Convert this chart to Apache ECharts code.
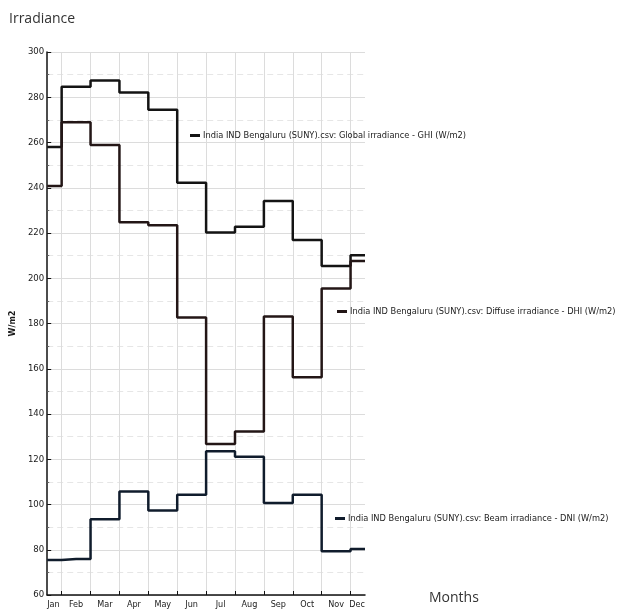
<!DOCTYPE html>
<html>
<head>
<meta charset="utf-8">
<script src="https://cdn.jsdelivr.net/npm/echarts@6/dist/echarts.min.js"></script>
<style>html,body{margin:0;padding:0;background:#fff;}#c{width:618px;height:613px;}</style>
</head>
<body>
<div id="c"></div>
<script>
const months = ['Jan','Feb','Mar','Apr','May','Jun','Jul','Aug','Sep','Oct','Nov','Dec'];
const ghiName = 'India IND Bengaluru (SUNY).csv: Global irradiance - GHI (W/m2)';
const dhiName = 'India IND Bengaluru (SUNY).csv: Diffuse irradiance - DHI (W/m2)';
const dniName = 'India IND Bengaluru (SUNY).csv: Beam irradiance - DNI (W/m2)';
const ghi = [258, 284.6, 287.4, 282.1, 274.5, 242.2, 220.2, 222.8, 234.1, 216.9, 205.4, 210.2];
const dhi = [240.8, 268.9, 258.9, 224.7, 223.4, 182.6, 126.7, 132.3, 183.1, 156.2, 195.5, 207.6];
const dni = [75.5, 75.9, 93.5, 105.7, 97.3, 104.3, 123.5, 121.1, 100.7, 104.3, 79.3, 80.3];
const yTicks = [60, 80, 100, 120, 140, 160, 180, 200, 220, 240, 260, 280, 300];

const labelFont = 'Liberation Sans Narrow, DejaVu Sans Condensed, Liberation Sans, sans-serif';
const chart = echarts.init(document.getElementById('c'), null, {renderer: 'canvas'});
const toXY = arr => arr.map((v, i) => [i, v]);
const monthIdx = months.map((m, i) => i);
const boundaries = months.slice(1).map((m, i) => i + 0.5);

function legendAt(name, left, top) {
  return {
    data: [name], left: left, top: top, padding: 0, orient: 'horizontal',
    icon: 'rect', itemWidth: 10, itemHeight: 3, itemGap: 0,
    selectedMode: false,
    textStyle: {fontFamily: labelFont, fontSize: 9.2, color: '#1a1a1a', padding: [0, 0, 0, -2]}
  };
}

chart.setOption({
  animation: false,
  backgroundColor: '#fff',
  title: [
    {text: 'Irradiance', left: 4, top: 7, textStyle: {fontFamily: 'Open Sans', fontSize: 14, fontWeight: 'normal', color: '#333'}},
    {text: 'Months', left: 424, top: 586, textStyle: {fontFamily: 'Open Sans', fontSize: 14, fontWeight: 'normal', color: '#333'}}
  ],
  legend: [
    legendAt(ghiName, 190, 131),
    legendAt(dhiName, 337, 307),
    legendAt(dniName, 335, 514)
  ],
  grid: {left: 46, right: 253, top: 52, bottom: 18, containLabel: false},
  xAxis: {
    type: 'value', min: 0, max: 11,
    axisLine: {show: true, lineStyle: {color: '#111', width: 1.5}},
    axisTick: {show: true, inside: true, length: 4, customValues: boundaries, lineStyle: {color: '#111', width: 1}},
    axisLabel: {
      customValues: monthIdx, fontFamily: labelFont, fontSize: 9, color: '#1a1a1a', margin: 5,
      alignMinLabel: 'left', alignMaxLabel: 'right',
      formatter: v => months[Math.round(v)]
    },
    splitLine: {show: true, lineStyle: {color: '#dcdcdc', width: 1}}
  },
  yAxis: {
    type: 'value', min: 60, max: 300, interval: 20,
    name: 'W/m2', nameLocation: 'middle', nameGap: 18, nameRotate: 90,
    nameTextStyle: {fontFamily: labelFont, fontSize: 9, color: '#1a1a1a', fontWeight: 'bold'},
    axisLine: {show: true, lineStyle: {color: '#111', width: 1.5}},
    axisTick: {show: true, inside: true, length: 4, lineStyle: {color: '#111'}},
    minorTick: {show: true, splitNumber: 2, length: 2, lineStyle: {color: '#666'}},
    axisLabel: {fontFamily: labelFont, fontSize: 9.5, color: '#1a1a1a', margin: 3,
      customValues: yTicks},
    splitLine: {show: true, lineStyle: {color: '#dcdcdc', width: 1}},
    minorSplitLine: {show: true, lineStyle: {color: '#e6e6e6', width: 1, type: [6, 4]}}
  },
  series: [
    {name: ghiName, type: 'line', step: 'middle', data: toXY(ghi), showSymbol: false,
      lineStyle: {color: '#141414', width: 2.5}, itemStyle: {color: '#141414'}},
    {name: dhiName, type: 'line', step: 'middle', data: toXY(dhi), showSymbol: false,
      lineStyle: {color: '#231616', width: 2.5}, itemStyle: {color: '#231616'}},
    {name: dniName, type: 'line', step: 'middle', data: toXY(dni), showSymbol: false,
      lineStyle: {color: '#101c2c', width: 2.5}, itemStyle: {color: '#101c2c'}}
  ]
});
</script>
</body>
</html>
